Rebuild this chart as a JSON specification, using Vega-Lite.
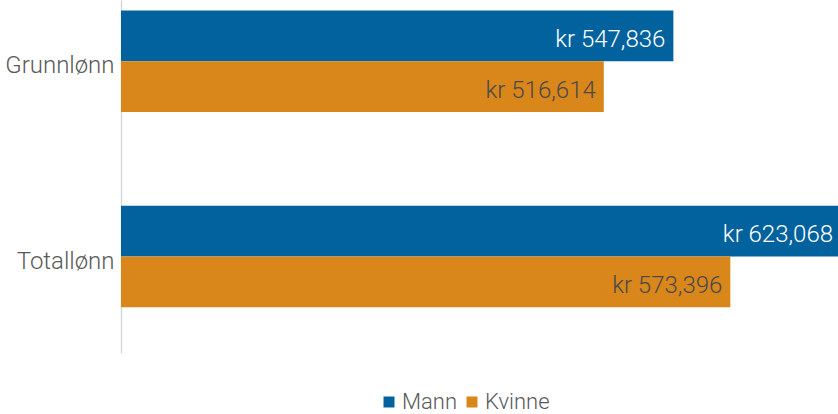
{
  "$schema": "https://vega.github.io/schema/vega-lite/v6.json",
  "autosize": {"type": "none"},
  "padding": {"left": 121, "right": 0, "top": 0, "bottom": 61},
  "width": 717,
  "height": 353,
  "background": "white",
  "config": {
    "view": {"stroke": null},
    "font": "Roboto",
    "text": {"font": "Roboto", "fontWeight": 300}
  },
  "data": {
    "values": [
      {"kategori": "Grunnlønn", "kjonn": "Mann", "lonn": 547836, "label": "kr 547,836"},
      {"kategori": "Grunnlønn", "kjonn": "Kvinne", "lonn": 516614, "label": "kr 516,614"},
      {"kategori": "Totallønn", "kjonn": "Mann", "lonn": 623068, "label": "kr 623,068"},
      {"kategori": "Totallønn", "kjonn": "Kvinne", "lonn": 573396, "label": "kr 573,396"}
    ]
  },
  "encoding": {
    "y": {
      "field": "kategori",
      "type": "nominal",
      "sort": ["Grunnlønn", "Totallønn"],
      "scale": {"paddingInner": 0.48, "paddingOuter": 0.144, "align": 0.187},
      "axis": {
        "title": null,
        "ticks": false,
        "domainColor": "#d9d9d9",
        "domainWidth": 1.5,
        "labelFont": "Roboto",
        "labelFontWeight": 300,
        "labelFontSize": 24,
        "labelColor": "#595959",
        "labelPadding": 7,
        "labelOffset": 5
      }
    },
    "yOffset": {
      "field": "kjonn",
      "type": "nominal",
      "sort": ["Mann", "Kvinne"],
      "scale": {"paddingInner": 0, "paddingOuter": 0}
    },
    "x": {
      "field": "lonn",
      "type": "quantitative",
      "scale": {"domain": [300000, 621700], "nice": false, "zero": false},
      "axis": null
    }
  },
  "layer": [
    {
      "mark": {"type": "bar", "clip": true},
      "encoding": {
        "color": {
          "field": "kjonn",
          "type": "nominal",
          "sort": ["Mann", "Kvinne"],
          "scale": {"domain": ["Mann", "Kvinne"], "range": ["#02629e", "#d9861a"]},
          "legend": {
            "title": null,
            "orient": "none",
            "direction": "horizontal",
            "legendX": 257,
            "legendY": 391,
            "symbolType": "square",
            "symbolSize": 121,
            "symbolStrokeWidth": 0,
            "labelFont": "Roboto",
            "labelFontWeight": 300,
            "labelFontSize": 22,
            "labelColor": "#595959",
            "labelOffset": 2,
            "columnPadding": 3,
            "labelExpr": "datum.value === 'Kvinne' ? '\u2002\u2002Kvinne' : datum.label"
          }
        }
      }
    },
    {
      "mark": {"type": "text", "align": "right", "baseline": "middle", "dx": -8, "dy": 4, "fontSize": 24},
      "encoding": {
        "text": {"field": "label"},
        "color": {
          "condition": {"test": "datum.kjonn === 'Mann'", "value": "#ffffff"},
          "value": "#4a4a4a"
        }
      }
    }
  ]
}
